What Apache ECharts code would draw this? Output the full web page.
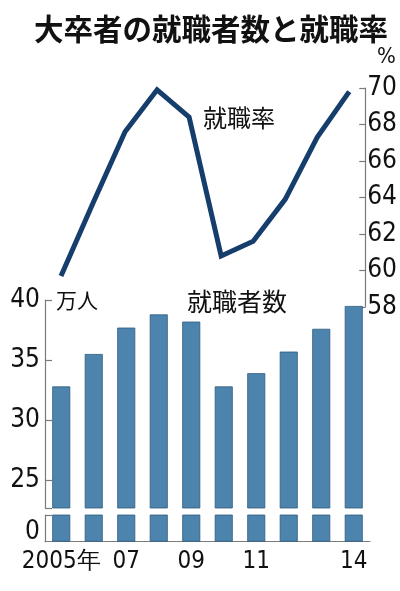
<!DOCTYPE html>
<html>
<head>
<meta charset="utf-8">
<script src="https://cdn.jsdelivr.net/npm/echarts@6/dist/echarts.min.js"></script>
<style>
  html, body { margin: 0; padding: 0; background: #fff; }
  #chart { width: 400px; height: 591px; }
</style>
</head>
<body>
<div id="chart"></div>
<script>
// 年度
const years = ['2005年', '06', '07', '08', '09', '10', '11', '12', '13', '14'];
const shownYears = ['2005年', '07', '09', '11', '14'];
// 就職者数（万人）
const employed = [32.8, 35.5, 37.7, 38.8, 38.2, 32.8, 33.9, 35.7, 37.6, 39.5];
// 就職率（%）
const rate = [59.7, 63.7, 67.6, 69.9, 68.4, 60.8, 61.6, 63.9, 67.3, 69.8];
// 目盛り
const rateTicks = [58, 60, 62, 64, 66, 68, 70];
const upperTicks = [25, 30, 35, 40];
const lowerTicks = [0];

const narrow = "'Liberation Sans Narrow', 'DejaVu Sans Condensed', sans-serif";
const cjk = "'Noto Sans CJK JP', sans-serif";
const axisGray = '#7a7a7a';
const breakLow = 22.67;
const breakHigh = 2.22;

const chart = echarts.init(document.getElementById('chart'));

const hiddenCat = {
  type: 'category',
  data: years,
  show: false
};

const option = {
  animation: false,
  title: {
    text: '大卒者の就職者数と就職率',
    left: 29,
    top: 9,
    textStyle: { fontFamily: cjk, fontSize: 29.5, fontWeight: 'bold', color: '#111' }
  },
  graphic: [
    { type: 'text', left: 377, top: 46, style: { text: '%', font: '22px ' + narrow, fill: '#111' } },
    { type: 'text', left: 203, top: 106, style: { text: '就職率', font: '24px ' + cjk, fill: '#111' } },
    { type: 'text', left: 187, top: 289, style: { text: '就職者数', font: '25px ' + cjk, fill: '#111' } },
    { type: 'text', left: 56, top: 290, style: { text: '万人', font: '21px ' + cjk, fill: '#111' } }
  ],
  grid: [
    { left: 45, right: 30, top: 88, height: 219 },
    { left: 45, right: 30, top: 300, height: 208 },
    { left: 45, right: 30, top: 515, height: 26.7 }
  ],
  xAxis: [
    Object.assign({ gridIndex: 0 }, hiddenCat),
    Object.assign({ gridIndex: 1 }, hiddenCat),
    {
      gridIndex: 2,
      type: 'category',
      data: years,
      axisLine: { lineStyle: { color: axisGray, width: 1.2 } },
      axisTick: { show: false },
      axisLabel: {
        interval: (idx, val) => shownYears.includes(val),
        margin: 8,
        fontFamily: narrow,
        fontSize: 24,
        color: '#111'
      }
    }
  ],
  yAxis: [
    {
      gridIndex: 0,
      type: 'value',
      position: 'right',
      min: 58,
      max: 70,
      interval: 2,
      splitLine: { show: false },
      axisLine: { show: true, lineStyle: { color: axisGray, width: 1.2 } },
      axisTick: { show: true, inside: true, length: 6, lineStyle: { color: axisGray, width: 1.2 }, customValues: rateTicks },
      axisLabel: { margin: 2, fontFamily: narrow, fontSize: 26, color: '#111', customValues: rateTicks }
    },
    {
      gridIndex: 1,
      type: 'value',
      min: breakLow,
      max: 40,
      splitLine: { show: false },
      axisLine: { show: true, lineStyle: { color: axisGray, width: 1.2 } },
      axisTick: { show: true, inside: true, length: 7, lineStyle: { color: axisGray, width: 1.2 }, customValues: [breakLow].concat(upperTicks) },
      axisLabel: { margin: 5, fontFamily: narrow, fontSize: 26, color: '#111', customValues: upperTicks }
    },
    {
      gridIndex: 2,
      type: 'value',
      min: 0,
      max: breakHigh,
      splitLine: { show: false },
      axisLine: { show: true, lineStyle: { color: axisGray, width: 1.2 } },
      axisTick: { show: true, inside: true, length: 7, lineStyle: { color: axisGray, width: 1.2 }, customValues: [breakHigh] },
      axisLabel: { margin: 5, fontFamily: narrow, fontSize: 26, color: '#111', customValues: lowerTicks, verticalAlign: 'bottom', padding: [0, 0, -4, 0] }
    }
  ],
  series: [
    {
      name: '就職率',
      type: 'line',
      xAxisIndex: 0,
      yAxisIndex: 0,
      data: rate,
      symbol: 'none',
      lineStyle: { color: '#163e6c', width: 5, join: 'miter' }
    },
    {
      name: '就職者数',
      type: 'bar',
      xAxisIndex: 1,
      yAxisIndex: 1,
      data: employed,
      barWidth: 18,
      clip: true,
      itemStyle: { color: '#4c84ad', borderColor: '#2d5a7e', borderWidth: 0.8 }
    },
    {
      name: '就職者数_下',
      type: 'bar',
      xAxisIndex: 2,
      yAxisIndex: 2,
      data: employed,
      barWidth: 18,
      clip: true,
      itemStyle: { color: '#4c84ad', borderColor: '#2d5a7e', borderWidth: 0.8 }
    }
  ]
};

chart.setOption(option);
</script>
</body>
</html>
